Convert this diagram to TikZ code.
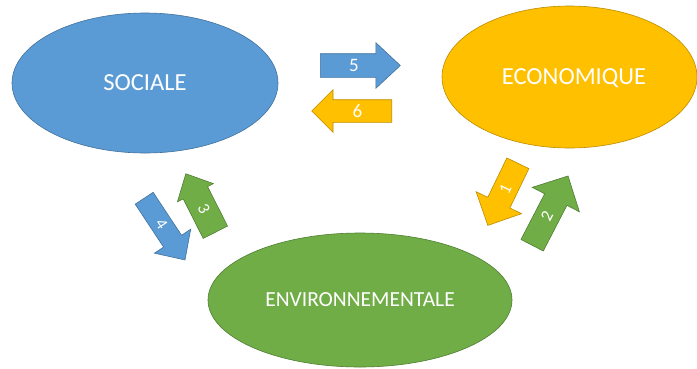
\documentclass[tikz,border=0pt]{standalone}
\usepackage{fontspec}
\setmainfont{Carlito}
\usetikzlibrary{shapes.geometric,shapes.arrows}
\definecolor{blueF}{HTML}{5B9BD5}
\definecolor{blueD}{HTML}{41719C}
\definecolor{goldF}{HTML}{FFC000}
\definecolor{goldD}{HTML}{BC8C00}
\definecolor{greenF}{HTML}{70AD47}
\definecolor{greenD}{HTML}{507E32}
\tikzset{
  ell/.style={ellipse, inner sep=0pt, line width=0.6pt, text=white, text depth=0pt},
  bigtxt/.style={font=\fontsize{24.5}{24.5}\selectfont, text height=15.8pt},
  arr/.style={single arrow, anchor=tail, inner xsep=0pt, line width=0.6pt, text=white,
    single arrow head indent=0pt, font=\fontsize{19}{19}\selectfont,
    text height=12pt, text depth=0pt},
  arrsm/.style={font=\fontsize{17}{17}\selectfont, text height=10.7pt, text depth=0pt},
  blueS/.style={fill=blueF, draw=blueD},
  goldS/.style={fill=goldF, draw=goldD},
  greenS/.style={fill=greenF, draw=greenD}
}
\begin{document}
\begin{tikzpicture}[x=1pt,y=-1pt]
\fill[white] (0,0) rectangle (697,368);
\useasboundingbox (0,0) rectangle (697,368);
% ellipses
\node[ell, blueS, bigtxt, minimum width=266pt, minimum height=140pt] (soc) at (145,83) {SOCIALE\hspace{3pt}};
\node[ell, goldS, bigtxt, minimum width=255pt, minimum height=142pt] (eco) at (569.5,77) {\hspace{9pt}ECONOMIQUE};
\node[ell, greenS, font=\fontsize{21.5}{21.5}\selectfont, text height=13.9pt, minimum width=304pt, minimum height=134pt] (env) at (360,300) {ENVIRONNEMENTALE\hspace{3pt}};
% arrows (placed by their tail)
\node[arr, blueS, inner ysep=5.5pt, minimum height=80pt, minimum width=45pt, single arrow head extend=11pt, single arrow tip angle=86] (a5) at (320,65.5) {5};
\node[arr, goldS, inner ysep=5pt, shape border rotate=180, minimum height=80pt, minimum width=42pt, single arrow head extend=10pt, single arrow tip angle=90] (a6) at (392,111) {6};
\node[arr, arrsm, blueS, inner ysep=5.1pt, rotate=-56.5, minimum height=74pt, minimum width=43pt, single arrow head extend=11pt, single arrow tip angle=88] (a4) at (144,198) {4};
\node[arr, arrsm, greenS, inner ysep=8pt, rotate=-63.2, shape border rotate=180, minimum height=65.5pt, minimum width=40pt, single arrow head extend=6.5pt, single arrow tip angle=87] (a3) at (215.5,232.5) {3};
\node[arr, arrsm, goldS, inner ysep=6.6pt, rotate=64.2, shape border rotate=180, minimum height=69pt, minimum width=50pt, single arrow head extend=13pt, single arrow tip angle=90] (a1) at (518,163) {1};
\node[arr, arrsm, greenS, inner ysep=6.9pt, rotate=62.6, minimum height=78pt, minimum width=53pt, single arrow head extend=14pt, single arrow tip angle=90] (a2) at (532,245.5) {2};
\end{tikzpicture}
\end{document}
